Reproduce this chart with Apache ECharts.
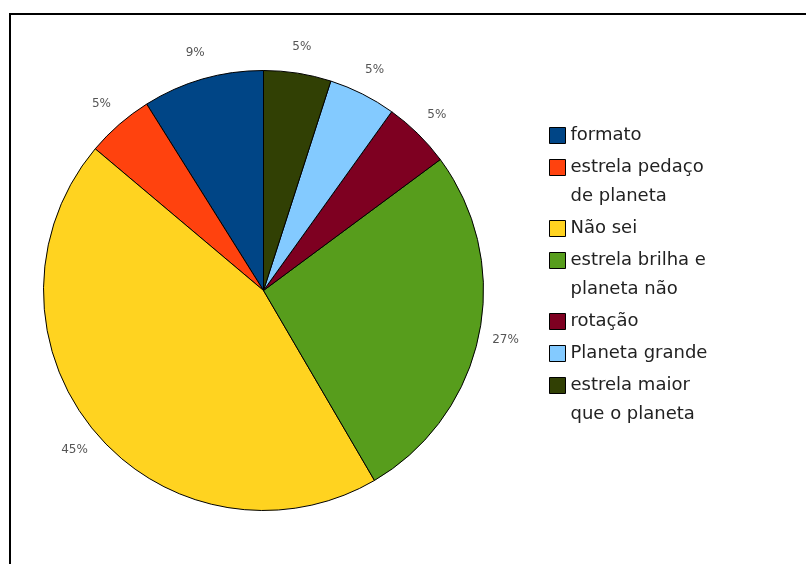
<!DOCTYPE html>
<html>
<head>
<meta charset="utf-8">
<script src="https://cdn.jsdelivr.net/npm/echarts@6/dist/echarts.min.js"></script>
<style>
  html, body { margin: 0; padding: 0; background: #fff; }
  #chart { width: 806px; height: 564px; }
</style>
</head>
<body>
<div id="chart"></div>
<script>
// Answers, in order counter-clockwise from 12 o'clock
const categories = [
  'formato',
  'estrela pedaço\nde planeta',
  'Não sei',
  'estrela brilha e\nplaneta não',
  'rotação',
  'Planeta grande',
  'estrela maior\nque o planeta'
];
// Share of answers, in percent
const shares = [9, 5, 45, 27, 5, 5, 5];
const sliceColors = ['#004586', '#ff420e', '#ffd320', '#579d1c', '#7e0021', '#83caff', '#314004'];

const center = [263.5, 290.5];
const pieRadius = 220;
const fontFamily = '"DejaVu Sans", "Liberation Sans", sans-serif';

const pieData = categories.map((name, i) => ({
  name: name,
  value: shares[i],
  itemStyle: { color: sliceColors[i] }
}));

// One legend block per entry. Legend text is centred on its swatch, so a wrapped
// name gets blank lines in front to keep its first line level with the swatch.
const LINE_H = 29, ENTRY_GAP = 3, FIRST_CENTER = 135.5;
const legends = [];
let c = FIRST_CENTER;
categories.forEach((name) => {
  const lines = name.split('\n').length;
  legends.push({
    data: [name],
    left: 549,
    top: c - LINE_H / 2 - LINE_H * (lines - 1),
    padding: 0,
    icon: 'rect',
    itemWidth: 16,
    itemHeight: 16,
    selectedMode: false,
    formatter: (n) => '\n'.repeat(lines - 1) + n,
    itemStyle: { borderColor: '#000', borderWidth: 1 },
    textStyle: {
      fontFamily: fontFamily,
      fontSize: 18,
      color: '#222',
      lineHeight: LINE_H
    }
  });
  c += LINE_H * lines + ENTRY_GAP;
});

const chart = echarts.init(document.getElementById('chart'), null, { renderer: 'canvas' });
chart.setOption({
  animation: false,
  backgroundColor: '#fff',
  graphic: [{
    type: 'rect',
    silent: true,
    z: 0,
    shape: { x: 10, y: 14, width: 900, height: 700 },
    style: { fill: 'none', stroke: '#000', lineWidth: 2 }
  }],
  legend: legends,
  series: [
    {
      type: 'pie',
      center: center,
      radius: [0, pieRadius],
      startAngle: 90,
      clockwise: false,
      avoidLabelOverlap: false,
      silent: true,
      label: { show: false },
      labelLine: { show: false },
      itemStyle: { borderColor: '#000', borderWidth: 1 },
      emphasis: { disabled: true },
      data: pieData
    },
    {
      // transparent ring carrying the percentage labels just outside the pie
      type: 'pie',
      center: center,
      radius: [pieRadius, pieRadius + 48],
      startAngle: 90,
      clockwise: false,
      avoidLabelOverlap: false,
      silent: true,
      itemStyle: { color: 'rgba(0,0,0,0)', borderWidth: 0 },
      labelLine: { show: false },
      label: {
        show: true,
        position: 'inside',
        formatter: '{c}%',
        fontFamily: fontFamily,
        fontSize: 12,
        color: '#555'
      },
      emphasis: { disabled: true },
      data: categories.map((name, i) => ({ name: name, value: shares[i] }))
    }
  ]
});
</script>
</body>
</html>
